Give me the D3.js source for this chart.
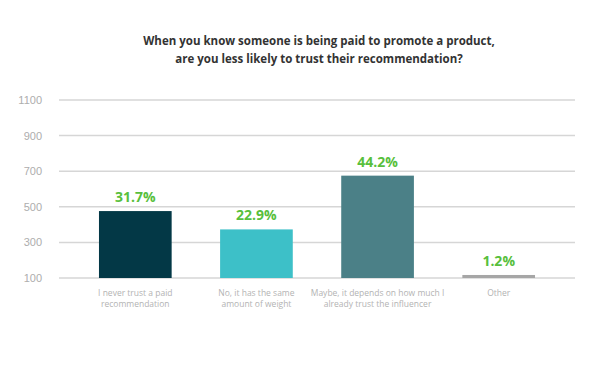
<!DOCTYPE html>
<html>
<head>
<meta charset="utf-8">
<script src="https://cdn.jsdelivr.net/npm/d3@7"></script>
<style>
    body { margin: 0; background: #fff; }
    svg { display: block; font-family: "Open Sans", sans-serif; }
    .grid line { stroke: #d6d6d6; stroke-width: 1.5; }
    .axis text { fill: #adadad; font-size: 11px; }
</style>
</head>
<body>
<div id="container"></div>
<script>
"use strict";

const CATEGORIES = [
    ["I never trust a paid", "recommendation"],
    ["No, it has the same", "amount of weight"],
    ["Maybe, it depends on how much I", "already trust the influencer"],
    ["Other"]
];
const VALUES = [476, 373, 675, 117];
const PERCENTS = ["31.7%", "22.9%", "44.2%", "1.2%"];
const COLORS = ["#033846", "#3dc0c8", "#4b8087", "#a6a6a6"];
const Y_TICKS = [100, 300, 500, 700, 900, 1100];
const TITLE = [
    "When you know someone is being paid to promote a product,",
    "are you less likely to trust their recommendation?"
];

const WIDTH = 606;
const HEIGHT = 377;
const LEFT = 59;
const RIGHT = 575;
const TOP = 100;
const BOTTOM = 278;

const SVG = d3.select("div#container").append("svg")
    .attr("width", WIDTH)
    .attr("height", HEIGHT);

const xScale = d3.scaleBand()
    .domain(d3.range(CATEGORIES.length))
    .range([LEFT, RIGHT])
    .paddingInner(0.4)
    .paddingOuter(0.33);

const yScale = d3.scaleLinear()
    .domain([100, 1100])
    .range([BOTTOM, TOP]);

// title
SVG.append("text")
    .attr("y", 45)
    .attr("text-anchor", "middle")
    .attr("fill", "#333")
    .style("font-size", "11.5px")
    .style("font-weight", "bold")
    .selectAll("tspan")
    .data(TITLE)
    .join("tspan")
    .attr("x", 319)
    .attr("dy", (d, i) => i ? 18 : 0)
    .text(d => d);

// gridlines
SVG.append("g")
    .attr("class", "grid")
    .selectAll("line")
    .data(Y_TICKS)
    .join("line")
    .attr("x1", LEFT)
    .attr("x2", RIGHT)
    .attr("y1", d => yScale(d))
    .attr("y2", d => yScale(d));

// y axis labels
const yaxis = d3.axisLeft(yScale)
    .tickValues(Y_TICKS)
    .tickFormat(d3.format("d"))
    .tickSize(0)
    .tickPadding(0);

SVG.append("g")
    .attr("class", "axis")
    .attr("transform", "translate(42,0)")
    .call(yaxis)
    .call(g => g.select(".domain").remove());

// bars
SVG.append("g")
    .selectAll("rect")
    .data(VALUES)
    .join("rect")
    .attr("x", (d, i) => xScale(i))
    .attr("width", xScale.bandwidth())
    .attr("y", d => yScale(d))
    .attr("height", d => yScale(100) - yScale(d))
    .attr("fill", (d, i) => COLORS[i]);

// percent labels
SVG.append("g")
    .selectAll("text")
    .data(VALUES)
    .join("text")
    .attr("x", (d, i) => xScale(i) + xScale.bandwidth() / 2)
    .attr("y", d => yScale(d) - 9)
    .attr("text-anchor", "middle")
    .attr("fill", "#58bf3c")
    .style("font-size", "14px")
    .style("font-weight", "bold")
    .text((d, i) => PERCENTS[i]);

// category labels
SVG.append("g")
    .selectAll("text")
    .data(CATEGORIES)
    .join("text")
    .attr("text-anchor", "middle")
    .attr("fill", "#b3b3b3")
    .style("font-size", "8.5px")
    .attr("y", 296)
    .each(function (d, i) {
        d3.select(this).selectAll("tspan")
            .data(d)
            .join("tspan")
            .attr("x", xScale(i) + xScale.bandwidth() / 2)
            .attr("dy", (t, j) => j ? 11 : 0)
            .text(t => t);
    });
</script>
</body>
</html>
